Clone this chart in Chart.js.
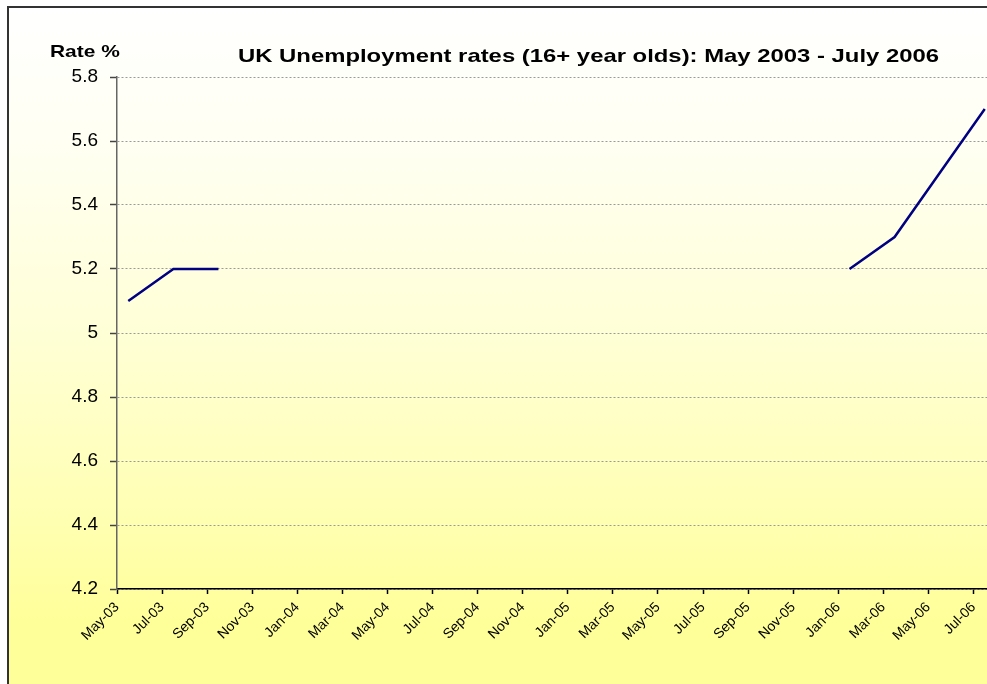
<!DOCTYPE html>
<html lang="en">
<head>
    <meta charset="UTF-8">
    <title>UK Unemployment rates</title>
    <script src="https://cdn.jsdelivr.net/npm/chart.js@4.4.0/dist/chart.umd.min.js"></script>
    <style>
        html, body {
            margin: 0;
            padding: 0;
            width: 987px;
            height: 684px;
            overflow: hidden;
            background: #fff;
        }
        #frame {
            position: absolute;
            left: 7px;
            top: 6px;
            width: 1000px;
            height: 700px;
            border-left: 2px solid #333;
            border-top: 2px solid #333;
            background: linear-gradient(to bottom, #ffffff 0%, #fffff2 20%, #ffffd8 45%, #ffffb4 72%, #ffff99 88%, #ffff99 100%);
        }
        #chart {
            position: absolute;
            left: 0;
            top: 0;
        }
    </style>
</head>
<body>
    <div id="frame"></div>
    <canvas id="chart" width="987" height="684"></canvas>

    <script>
        // tick labels on the x axis, one every two months
        const months = ['May-03', 'Jul-03', 'Sep-03', 'Nov-03', 'Jan-04', 'Mar-04', 'May-04',
            'Jul-04', 'Sep-04', 'Nov-04', 'Jan-05', 'Mar-05', 'May-05', 'Jul-05', 'Sep-05',
            'Nov-05', 'Jan-06', 'Mar-06', 'May-06', 'Jul-06'];

        // unemployment rate (%) for each of those months, gaps where no value
        const rates = [5.1, 5.2, 5.2, null, null, null, null, null, null, null, null,
            null, null, null, null, null, 5.2, 5.3, 5.5, 5.7];

        const yTicks = [4.2, 4.4, 4.6, 4.8, 5.0, 5.2, 5.4, 5.6, 5.8];

        const chartTitle = 'UK Unemployment rates (16+ year olds): May 2003 - July 2006';
        const axisTitle = 'Rate %';

        // date axis in months: each month is one slot, points sit mid-slot
        const points = rates.map((r, i) => ({ x: i * 2 + 0.5, y: r }));

        // titles are drawn wide, like the original export
        const titlePlugin = {
            id: 'wideTitles',
            afterDraw(chart) {
                const ctx = chart.ctx;
                ctx.save();
                ctx.fillStyle = '#000';
                ctx.textBaseline = 'alphabetic';
                ctx.font = 'bold 18.5px "Liberation Sans", Arial, sans-serif';
                ctx.translate(238, 62);
                ctx.scale(1.29, 1);
                ctx.fillText(chartTitle, 0, 0);
                ctx.restore();

                ctx.save();
                ctx.fillStyle = '#000';
                ctx.font = 'bold 17px "Liberation Sans", Arial, sans-serif';
                ctx.translate(50, 57);
                ctx.scale(1.23, 1);
                ctx.fillText(axisTitle, 0, 0);
                ctx.restore();
            }
        };

        const ctx = document.getElementById('chart').getContext('2d');

        const unemploymentChart = new Chart(ctx, {
            type: 'line',
            data: {
                datasets: [{
                    label: 'Rate',
                    data: points,
                    borderColor: '#000080',
                    borderWidth: 2.5,
                    pointRadius: 0,
                    tension: 0,
                    spanGaps: false,
                    fill: false
                }]
            },
            options: {
                responsive: false,
                animation: false,
                devicePixelRatio: 1,
                layout: {
                    padding: { top: 77, left: 0, right: 0, bottom: 0 }
                },
                plugins: {
                    legend: { display: false },
                    title: { display: false },
                    tooltip: { enabled: false }
                },
                scales: {
                    x: {
                        type: 'linear',
                        min: 0,
                        max: 38.6,
                        afterBuildTicks(scale) {
                            scale.ticks = months.map((m, i) => ({ value: i * 2 }));
                        },
                        afterFit(scale) {
                            scale.height = 95;
                            scale.paddingLeft = 0;
                            scale.paddingRight = 0;
                        },
                        grid: {
                            drawOnChartArea: false,
                            drawTicks: true,
                            tickLength: 5,
                            tickColor: '#000',
                            tickWidth: 1.5
                        },
                        border: {
                            display: true,
                            color: '#000',
                            width: 1.5
                        },
                        ticks: {
                            autoSkip: false,
                            maxRotation: 45,
                            minRotation: 45,
                            padding: 5,
                            color: '#000',
                            font: { family: '"Liberation Sans", Arial, sans-serif', size: 14 },
                            callback: (v) => months[Math.round(v / 2)]
                        }
                    },
                    y: {
                        min: 4.2,
                        max: 5.8,
                        afterBuildTicks(scale) {
                            scale.ticks = yTicks.map(v => ({ value: v }));
                        },
                        afterFit(scale) {
                            scale.width = 117;
                        },
                        grid: {
                            color: '#9a9a9a',
                            lineWidth: 1,
                            drawTicks: true,
                            tickLength: 7,
                            tickColor: '#444',
                            tickWidth: 1.5,
                            tickBorderDash: []
                        },
                        border: {
                            display: true,
                            color: '#666',
                            width: 1.5,
                            dash: [2, 2]
                        },
                        ticks: {
                            padding: 12,
                            color: '#000',
                            font: { family: '"Liberation Sans", Arial, sans-serif', size: 19 },
                            callback: (v) => String(Number(v.toFixed(1)))
                        }
                    }
                }
            },
            plugins: [titlePlugin]
        });
    </script>
</body>
</html>
